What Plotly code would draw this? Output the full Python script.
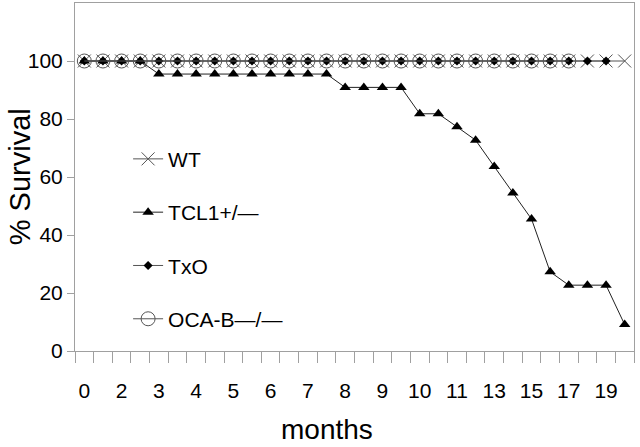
import plotly.graph_objects as go

# category positions (index of each time point on the category axis)
n_points = 30
cat_index = list(range(n_points))
tick_positions = [0, 2, 4, 6, 8, 10, 12, 14, 16, 18, 20, 22, 24, 26, 28]
tick_labels = ["0", "2", "3", "4", "5", "6", "7", "8", "9", "10", "11", "13", "15", "17", "19"]
y_ticks = [0, 20, 40, 60, 80, 100]

wt = [100] * 30
tcl1 = [100, 100, 100, 100, 95.5, 95.5, 95.5, 95.5, 95.5, 95.5, 95.5, 95.5, 95.5, 95.5,
        90.9, 90.9, 90.9, 90.9, 81.8, 81.8, 77.3, 72.7, 63.6, 54.5, 45.5, 27.3, 22.7, 22.7, 22.7, 9.1]
txo = [100] * 29
ocab = [100] * 27

font_family = "Liberation Sans, Arial, sans-serif"

fig = go.Figure()
fig.add_trace(go.Scatter(x=cat_index[:len(wt)], y=wt, name="WT", mode="lines+markers",
                         line=dict(color="#555555", width=1),
                         marker=dict(symbol="x-thin-open", size=13, line=dict(color="#000000", width=1)),
                         legendgroup="a"))
fig.add_trace(go.Scatter(x=cat_index[:len(tcl1)], y=tcl1, name="TCL1+/\u2014", mode="lines+markers",
                         line=dict(color="#222222", width=1),
                         marker=dict(symbol="triangle-up", size=10, color="#000000"),
                         legendgroup="b"))
fig.add_trace(go.Scatter(x=cat_index[:len(txo)], y=txo, name="TxO", mode="lines+markers",
                         line=dict(color="#555555", width=1),
                         marker=dict(symbol="diamond", size=7, color="#000000"),
                         legendgroup="c"))
fig.add_trace(go.Scatter(x=cat_index[:len(ocab)], y=ocab, name="OCA-B\u2014/\u2014", mode="lines+markers",
                         line=dict(color="#555555", width=1),
                         marker=dict(symbol="circle-open", size=14, line=dict(color="#000000", width=1)),
                         legendgroup="d"))

fig.update_layout(
    width=640, height=447,
    margin=dict(l=75, r=6, t=3, b=96),
    paper_bgcolor="white", plot_bgcolor="white",
    font=dict(family=font_family, color="#000000", size=21),
    showlegend=True,
    legend=dict(x=0.095, y=0.61, xanchor="left", yanchor="top",
                bgcolor="rgba(0,0,0,0)", font=dict(size=21),
                tracegroupgap=23, traceorder="grouped", itemwidth=30),
    annotations=[
        dict(text="months", xref="paper", yref="paper", x=0.451, y=-0.225,
             xanchor="center", yanchor="middle", showarrow=False,
             font=dict(size=28, family=font_family)),
        dict(text="% Survival", xref="paper", yref="paper", x=-0.098, y=0.5,
             xanchor="center", yanchor="middle", textangle=-90, showarrow=False,
             font=dict(size=29, family=font_family)),
    ],
)
fig.update_xaxes(range=[-0.5, 29.5], showgrid=False, zeroline=False, automargin=False,
                 showline=True, linecolor="#a0a0a0", linewidth=1, mirror=True,
                 tickmode="array", tickvals=tick_positions, ticktext=tick_labels,
                 ticks="", ticklabelstandoff=21,
                 minor=dict(ticks="outside", tick0=-0.5, dtick=1, ticklen=11,
                            tickcolor="#a0a0a0", showgrid=False))
fig.update_yaxes(range=[0, 120], showgrid=False, zeroline=False, automargin=False,
                 showline=True, linecolor="#a0a0a0", linewidth=1, mirror=True,
                 tickmode="array", tickvals=y_ticks,
                 ticks="outside", ticklen=7, tickcolor="#a0a0a0")

fig.write_html("out.html", config={"displayModeBar": False},
               post_script="document.body.style.margin='0';")
